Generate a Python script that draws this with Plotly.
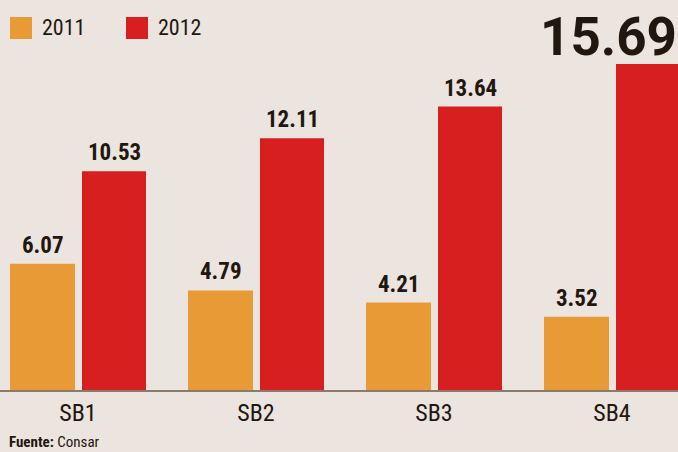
import plotly.graph_objects as go

categories = ["SB1", "SB2", "SB3", "SB4"]
series_names = ["2011", "2012"]
values_2011 = [6.07, 4.79, 4.21, 3.52]
values_2012 = [10.53, 12.11, 13.64, 15.69]
source_bold = "Fuente:"
source_text = "Consar"

BG = "#ECE4DE"
ORANGE = "#E89A36"
RED = "#D71F20"
INK = "#21170F"
FONT = "Liberation Sans Narrow, Arial Narrow, Roboto Condensed, Liberation Sans, sans-serif"

W, H = 678, 452
MB = 62
PH = H - MB
PX_PER_UNIT = 178.0
X0 = -78.0 / PX_PER_UNIT
X1 = X0 + W / PX_PER_UNIT
YMAX = PH / 20.78

xs = list(range(len(categories)))

fig = go.Figure()
fig.add_trace(go.Bar(x=xs, y=values_2011, name=series_names[0], marker=dict(color=ORANGE, line=dict(width=0)),
                     offset=-68 / PX_PER_UNIT, width=65 / PX_PER_UNIT, showlegend=False))
fig.add_trace(go.Bar(x=xs, y=values_2012, name=series_names[1], marker=dict(color=RED, line=dict(width=0)),
                     offset=4 / PX_PER_UNIT, width=64 / PX_PER_UNIT, showlegend=False))

annotations = []
for i, v in enumerate(values_2011):
    annotations.append(dict(x=i + (-68 + 32.5) / PX_PER_UNIT, y=v, xref="x", yref="y", text=f"{v:.2f}",
                            showarrow=False, yanchor="bottom", yshift=3,
                            font=dict(family=FONT, size=23, color=INK, weight="bold")))
for i, v in enumerate(values_2012):
    if i == len(values_2012) - 1:
        annotations.append(dict(x=1, y=v, xref="paper", yref="y", text=f"{v:.2f}",
                                showarrow=False, yanchor="bottom", xanchor="right", yshift=-5, xshift=0,
                                borderpad=0,
                                font=dict(family="Roboto, sans-serif", size=53, color=INK, weight="bold")))
    else:
        annotations.append(dict(x=i + (4 + 32) / PX_PER_UNIT, y=v, xref="x", yref="y", text=f"{v:.2f}",
                                showarrow=False, yanchor="bottom", yshift=3,
                                font=dict(family=FONT, size=23, color=INK, weight="bold")))

# legend
shapes = []
leg = [(10, ORANGE, series_names[0]), (126, RED, series_names[1])]
for x, col, name in leg:
    shapes.append(dict(type="rect", xref="paper", yref="paper",
                       x0=x / W, x1=(x + 22) / W, y0=1 - 39 / PH, y1=1 - 17 / PH,
                       fillcolor=col, line=dict(width=0)))
    annotations.append(dict(x=(x + 30) / W, y=1 - 28 / PH, xref="paper", yref="paper", text=name,
                            showarrow=False, xanchor="left", yanchor="middle",
                            font=dict(family=FONT, size=22, color=INK)))

annotations.append(dict(x=8 / W, y=-(H - PH) / PH, xref="paper", yref="paper",
                        text=f"<b>{source_bold}</b> {source_text}", showarrow=False,
                        xanchor="left", yanchor="bottom", borderpad=0,
                        font=dict(family=FONT, size=15, color=INK)))

fig.update_layout(
    width=W, height=H,
    margin=dict(l=0, r=0, t=0, b=MB, pad=0),
    paper_bgcolor=BG, plot_bgcolor=BG,
    barmode="overlay",
    xaxis=dict(range=[X0, X1], tickvals=xs, ticktext=categories, showgrid=False, zeroline=False,
               showline=True, linecolor="#8A7B6E", linewidth=2, ticks="",
               tickfont=dict(family=FONT, size=24, color=INK), fixedrange=True),
    yaxis=dict(range=[0, YMAX], visible=False, fixedrange=True),
    annotations=annotations,
    shapes=shapes,
)

fig.write_html("out.html", config={"displayModeBar": False},
               post_script="document.body.style.margin='0';document.body.style.background='" + BG + "';")
